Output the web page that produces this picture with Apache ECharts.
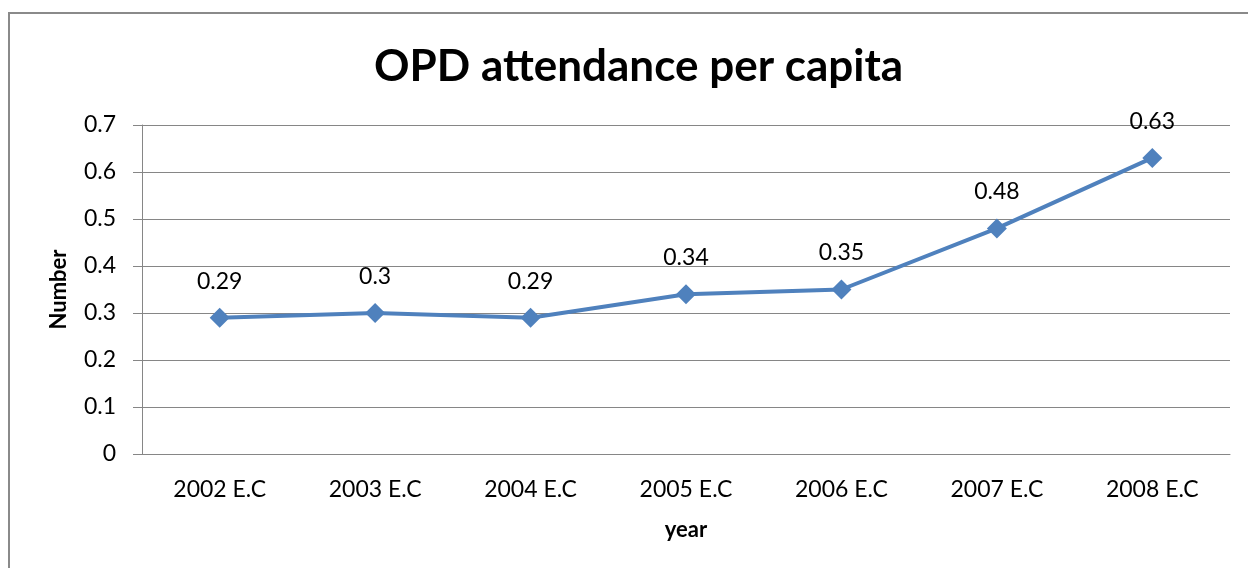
<!DOCTYPE html>
<html>
<head>
<meta charset="utf-8">
<script src="https://cdn.jsdelivr.net/npm/echarts@6/dist/echarts.min.js"></script>
<style>
  html, body { margin: 0; padding: 0; background: #fff; }
  #chart { width: 1248px; height: 568px; }
</style>
</head>
<body>
<div id="chart"></div>
<script>
const years = ['2002 E.C', '2003 E.C', '2004 E.C', '2005 E.C', '2006 E.C', '2007 E.C', '2008 E.C'];
const perCapita = [0.29, 0.3, 0.29, 0.34, 0.35, 0.48, 0.63];
const yTicks = [0, 0.1, 0.2, 0.3, 0.4, 0.5, 0.6, 0.7];

const font = 'Lato, "Noto Sans", sans-serif';
const chart = echarts.init(document.getElementById('chart'), null, { renderer: 'canvas' });

chart.setOption({
  animation: false,
  backgroundColor: '#fff',
  textStyle: { fontFamily: font },
  graphic: [{
    type: 'rect',
    shape: { x: 9, y: 13, width: 1300, height: 600 },
    style: { fill: 'none', stroke: '#8a8a8a', lineWidth: 2 },
    silent: true
  }],
  title: {
    text: 'OPD attendance per capita',
    left: 369,
    top: 40,
    textStyle: { fontFamily: font, fontSize: 44, fontWeight: 'bold', color: '#000' }
  },
  grid: { left: 142, right: 18, top: 125, bottom: 114 },
  xAxis: {
    type: 'category',
    data: years,
    boundaryGap: true,
    name: 'year',
    nameLocation: 'middle',
    nameGap: 65,
    nameTextStyle: { fontFamily: font, fontSize: 22, fontWeight: 'bold', color: '#000' },
    axisLine: { lineStyle: { color: '#868686', width: 1 } },
    axisTick: { show: false },
    axisLabel: { fontFamily: font, fontSize: 23, color: '#000', margin: 24 }
  },
  yAxis: {
    type: 'value',
    min: yTicks[0],
    max: yTicks[yTicks.length - 1],
    interval: 0.1,
    name: 'Number',
    nameLocation: 'middle',
    nameGap: 72,
    nameTextStyle: { fontFamily: font, fontSize: 22, fontWeight: 'bold', color: '#000' },
    axisLine: { show: true, lineStyle: { color: '#868686', width: 1 } },
    axisTick: { show: true, length: 9, lineStyle: { color: '#868686' } },
    splitLine: { lineStyle: { color: '#868686', width: 1 } },
    axisLabel: {
      fontFamily: font, fontSize: 23, color: '#000', margin: 26,
      formatter: v => String(Math.round(v * 10) / 10)
    }
  },
  series: [{
    type: 'line',
    data: perCapita,
    symbol: 'diamond',
    symbolSize: 20,
    lineStyle: { color: '#4f81bd', width: 4 },
    itemStyle: { color: '#4f81bd' },
    label: {
      show: true,
      position: 'top',
      distance: 15,
      fontFamily: font,
      fontSize: 23,
      color: '#000'
    }
  }]
});
</script>
</body>
</html>
